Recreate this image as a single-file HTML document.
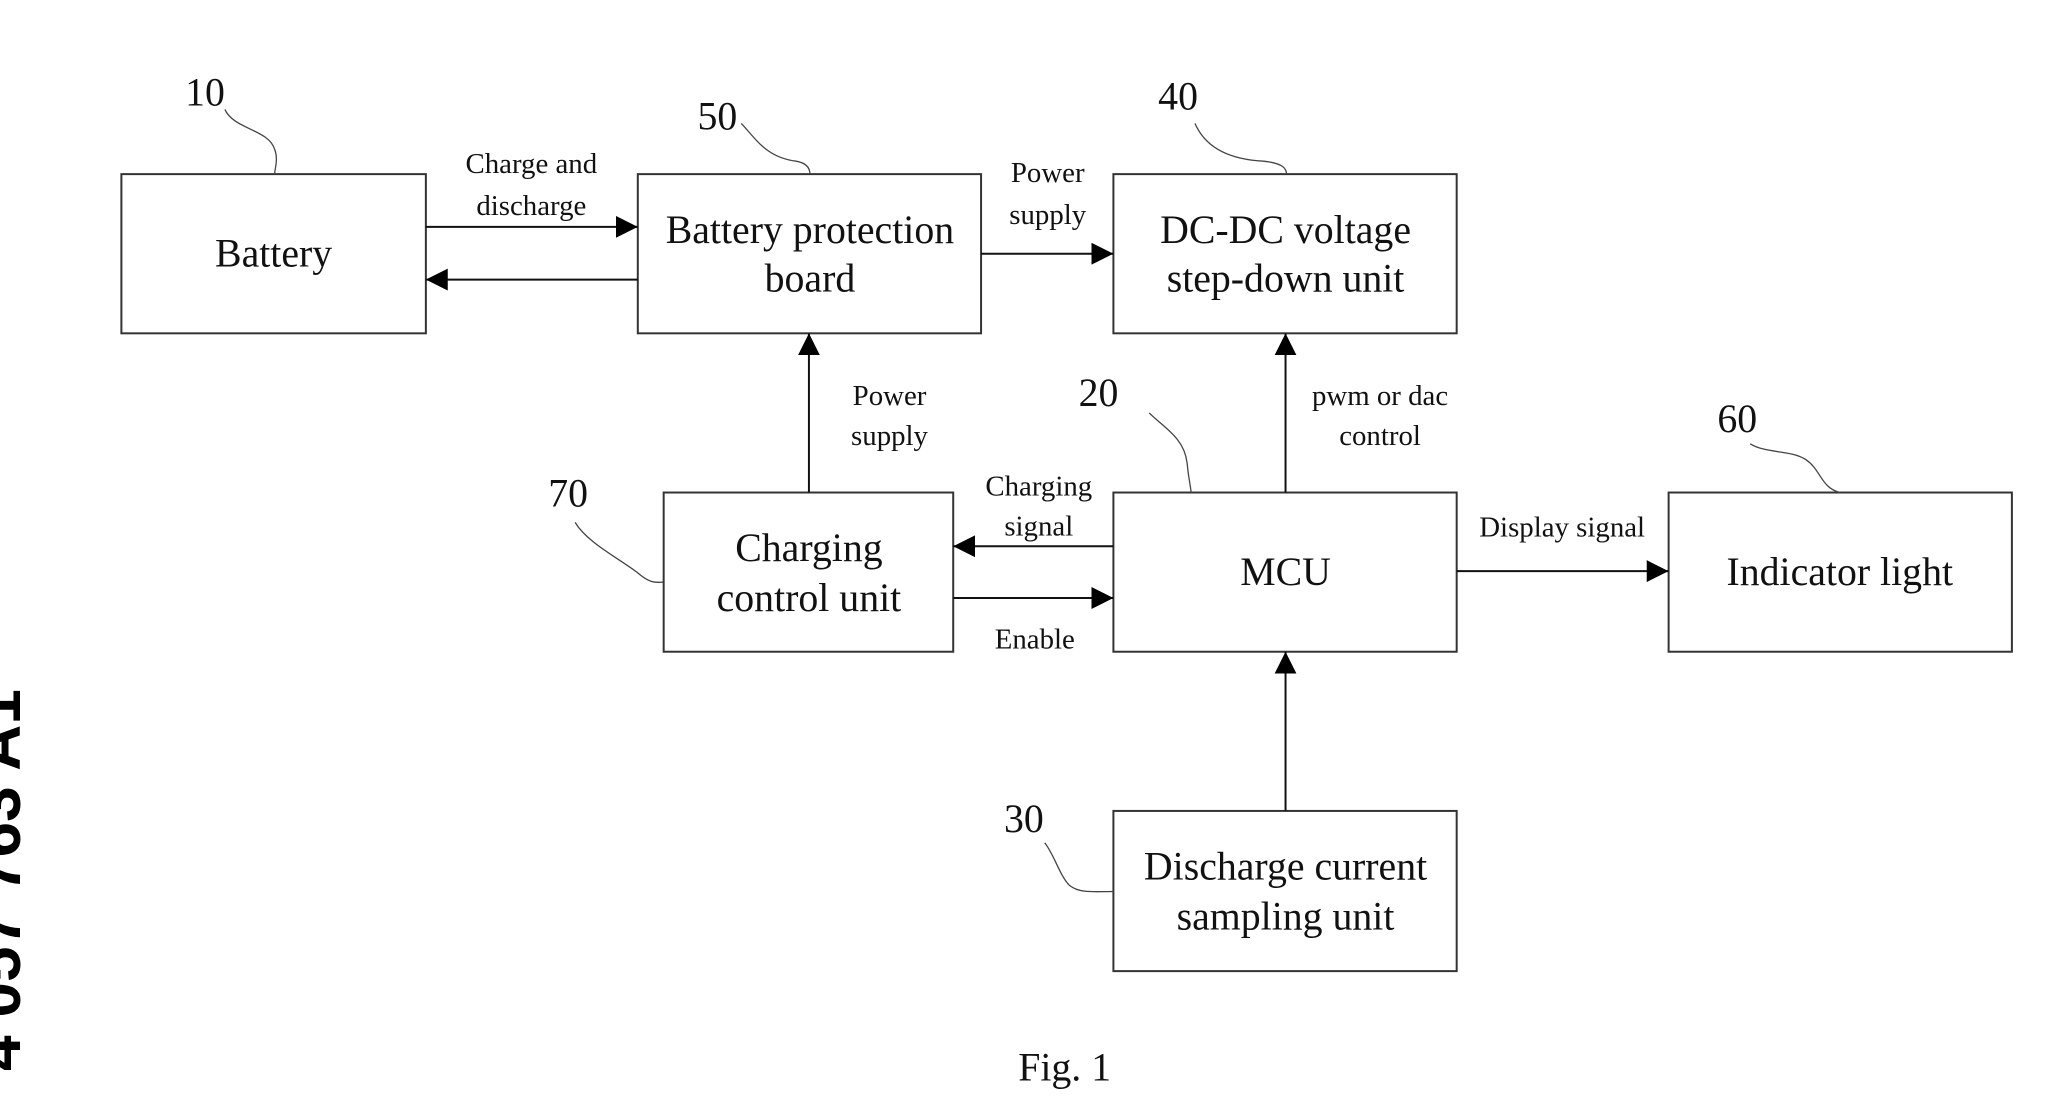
<!DOCTYPE html>
<html><head><meta charset="utf-8"><style>
html,body{margin:0;padding:0;background:#fff}
svg{display:block}
text{font-family:"Liberation Serif",serif;fill:#111}
.b{font-size:40px}
.s{font-size:29px}
.n{font-size:40px}
</style></head><body>
<svg width="2048" height="1103" viewBox="0 0 2048 1103" xmlns="http://www.w3.org/2000/svg">
<defs>
<marker id="A" viewBox="0 0 10 10" markerWidth="22" markerHeight="22" refX="10" refY="5" orient="auto" markerUnits="userSpaceOnUse"><path d="M0,0 L10,5 L0,10 z" fill="#000"/></marker></defs>
<g transform="scale(0.995)">
<g fill="none" stroke="#333" stroke-width="2">
<rect x="122" y="175" width="306" height="160"/>
<rect x="641" y="175" width="345" height="160"/>
<rect x="1119" y="175" width="345" height="160"/>
<rect x="667" y="495" width="291" height="160"/>
<rect x="1119" y="495" width="345" height="160"/>
<rect x="1677" y="495" width="345" height="160"/>
<rect x="1119" y="815" width="345" height="161"/>
</g>
<g stroke="#111" stroke-width="2" fill="none">
<line x1="428" y1="228" x2="641" y2="228" marker-end="url(#A)"/>
<line x1="641" y1="281" x2="428" y2="281" marker-end="url(#A)"/>
<line x1="986" y1="255" x2="1119" y2="255" marker-end="url(#A)"/>
<line x1="813" y1="495" x2="813" y2="335" marker-end="url(#A)"/>
<line x1="1292" y1="495" x2="1292" y2="335" marker-end="url(#A)"/>
<line x1="1119" y1="549" x2="958" y2="549" marker-end="url(#A)"/>
<line x1="958" y1="601" x2="1119" y2="601" marker-end="url(#A)"/>
<line x1="1464" y1="574" x2="1677" y2="574" marker-end="url(#A)"/>
<line x1="1292" y1="815" x2="1292" y2="655" marker-end="url(#A)"/>
</g>
<g stroke="#444" stroke-width="1.3" fill="none">
<path d="M226,110 C235,130 270,130 276,150 C280,160 276,170 276,175"/>
<path d="M745,124 C760,140 770,158 800,162 C812,164 814,170 814,175"/>
<path d="M1201,124 C1210,145 1230,160 1270,162 C1290,164 1293,170 1293,175"/>
<path d="M1155,415 C1170,430 1190,440 1193,465 C1195,485 1197,490 1197,495"/>
<path d="M1759,446 C1775,456 1800,452 1815,462 C1830,472 1830,490 1849,495"/>
<path d="M578,525 C590,545 620,560 640,575 C655,588 660,585 667,585"/>
<path d="M1050,847 C1060,860 1065,880 1075,890 C1085,898 1100,896 1119,896"/>
</g>
<g text-anchor="middle">
<text class="b" x="275" y="268">Battery</text>
<text class="b" x="814" y="244">Battery protection</text>
<text class="b" x="814" y="293">board</text>
<text class="b" x="1292" y="244">DC-DC voltage</text>
<text class="b" x="1292" y="293">step-down unit</text>
<text class="b" x="813" y="564">Charging</text>
<text class="b" x="813" y="614">control unit</text>
<text class="b" x="1292" y="588">MCU</text>
<text class="b" x="1849" y="588">Indicator light</text>
<text class="b" x="1292" y="884">Discharge current</text>
<text class="b" x="1292" y="934">sampling unit</text>
<text class="s" x="534" y="174">Charge and</text>
<text class="s" x="534" y="216">discharge</text>
<text class="s" x="1053" y="183">Power</text>
<text class="s" x="1053" y="225">supply</text>
<text class="s" x="894" y="407">Power</text>
<text class="s" x="894" y="447">supply</text>
<text class="s" x="1387" y="407">pwm or dac</text>
<text class="s" x="1387" y="447">control</text>
<text class="s" x="1044" y="498">Charging</text>
<text class="s" x="1044" y="538">signal</text>
<text class="s" x="1040" y="652">Enable</text>
<text class="s" x="1570" y="539">Display signal</text>
<text class="n" x="206" y="106">10</text>
<text class="n" x="721" y="130">50</text>
<text class="n" x="1184" y="110">40</text>
<text class="n" x="1104" y="408">20</text>
<text class="n" x="1746" y="434">60</text>
<text class="n" x="571" y="509">70</text>
<text class="n" x="1029" y="836">30</text>
<text class="b" x="1070" y="1086">Fig. 1</text>
</g>
</g>
<text transform="translate(20,880) rotate(-90)" text-anchor="middle" style="font-family:'Liberation Sans',sans-serif;font-weight:bold;font-size:64px;fill:#000">4 057 763 A1</text>
</svg>
</body></html>
